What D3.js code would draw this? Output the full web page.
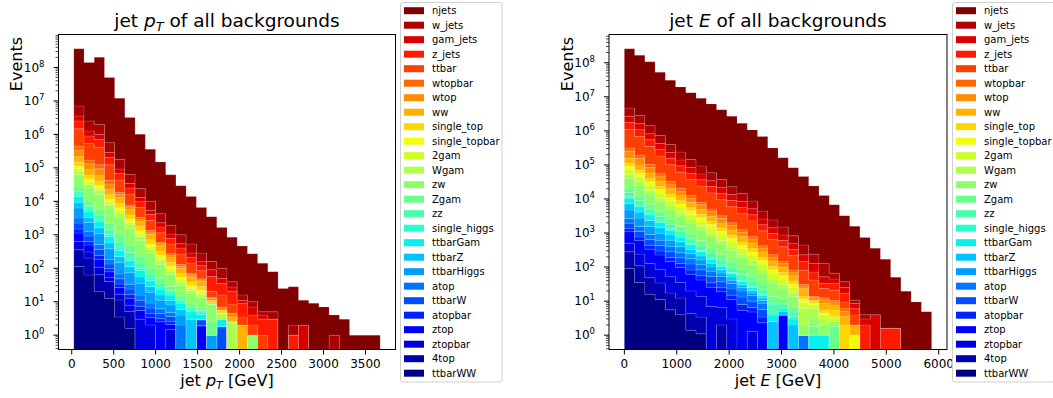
<!DOCTYPE html>
<html><head><meta charset="utf-8">
<script src="https://cdn.jsdelivr.net/npm/d3@7"></script>
<style>
body{margin:0;background:#fff;}
svg{display:block;font-family:"DejaVu Sans",sans-serif;}
text{white-space:pre;}
</style></head><body>
<svg id="c" width="1053" height="398"></svg>
<script>
// ---------- categories (stack order, bottom -> top) ----------
const seriesNames = ["ttbarWW","4top","ztopbar","ztop","atopbar","ttbarW","atop","ttbarHiggs","ttbarZ","ttbarGam","single_higgs","zz","Zgam","zw","Wgam","2gam","single_topbar","single_top","ww","wtop","wtopbar","ttbar","z_jets","gam_jets","w_jets","njets"];
// histogram ranges (GeV), 30 bins each
const ptRange = [25, 3675];
const eRange = [0, 5865];
// tick labels
const ptTicks = [0, 500, 1000, 1500, 2000, 2500, 3000, 3500];
const eTicks = [0, 1000, 2000, 3000, 4000, 5000, 6000];
const yTickExps = [0, 1, 2, 3, 4, 5, 6, 7, 8];

// ---------- jet pT : events per bin ----------
const pt_ttbarWW = [112,63,20,12.6,3.5,1.6,0,0,0,0,0,0,0,0,0,0,0,0,0,0,0,0,0,0,0,0,0,0,0,0];
const pt_4top = [245,138,44,27.5,7.8,3.5,0,0,0,0,0,0,0,0,0,0,0,0,0,0,0,0,0,0,0,0,0,0,0,0];
const pt_ztopbar = [275,105,44,13.8,5.5,2.75,3,2,0,1.5,0,0,0,0,0,0,0,0,0,0,0,0,0,0,0,0,0,0,0,0];
const pt_ztop = [490,186,78,24.5,9.8,4.9,2.5,1.4,2.5,0.6,0,0,1.9,0,0,0,0,0,0,0,0,0,0,0,0,0,0,0,0,0];
const pt_atopbar = [357,135,56,17.8,7.1,3.5,1.8,1.0,0.6,0.5,0,0,0,0,0,0,0,0,0,0,0,0,0,0,0,0,0,0,0,0];
const pt_ttbarW = [760,290,120,38,15,7.6,3.8,2.1,1.35,1.0,0,0,1,0,1.8,0,0,0,0,0,0,0,0,0,0,0,0,0,0,0];
const pt_atop = [920,355,148,47,18.6,9.3,4.7,2.6,1.66,1.2,2,0,0,0,0,0,0,0,0,0,0,0,0,0,0,0,0,0,0,0];
const pt_ttbarHiggs = [3150,1050,560,200,79,40,20,10,5.0,3.2,2.0,0,0,1,0,0,0,0,0,0,0,0,0,0,0,0,0,0,0,0];
const pt_ttbarZ = [3020,1000,540,190,76,38,19,9.5,4.8,3.0,1.9,3,0,0,0,0,0,0,0,0,0,0,0,0,0,0,0,0,0,0];
const pt_ttbarGam = [4790,1580,850,300,120,60,30,15,7.6,4.8,3.0,2,1.3,0,1.2,0,0,0,0,0,0,0,0,0,0,0,0,0,0,0];
const pt_single_higgs = [2470,810,440,155,62,31,15.5,7.8,3.9,2.5,1.5,1,0.7,0,0,0,0,0,0,0,0,0,0,0,0,0,0,0,0,0];
const pt_zz = [3360,1410,950,380,214,95,43,17,7.6,3.4,1.5,0.85,0.6,0,0,0,0,0,0,0,0,0,0,0,0,0,0,0,0,0];
const pt_Zgam = [6960,2900,1950,780,440,195,87,35,15.5,6.9,3.1,1.7,1.2,1.5,0,0,0,0,0,0,0,0,0,0,0,0,0,0,0,0];
const pt_zw = [36200,15000,10200,4100,2300,1020,460,182,81,36,16,9.1,6.5,6,0,0,0,1,0,0,0,0,0,0,0,0,0,0,0,0];
const pt_Wgam = [16300,6800,4600,1800,1020,460,200,81,36,16,7.2,4.1,2.9,0,1.5,2.5,0,0,0,0,0,0,0,0,0,0,0,0,0,0];
const pt_2gam = [13900,5750,3900,1550,870,390,174,69,31,13.8,6.2,3.5,2.5,0,0,0,0,0,0,0,0,0,0,0,0,0,0,0,0,0];
const pt_single_topbar = [18900,7900,5400,2140,1200,540,240,95,43,19,8.5,4.8,3.4,0,0,0,0,0,0,0,0,0,0,0,0,0,0,0,0,0];
const pt_single_top = [35700,14800,10000,4000,2240,1000,450,178,79,35,16,8.9,6.3,1.5,1.1,0,0,0,0,0,0,0,0,0,0,0,0,0,0,0];
const pt_ww = [65900,27500,18600,7400,4200,1860,830,330,148,66,30,16.6,11.7,1,0,1,2,0,0,0,0,0,0,0,0,0,0,0,0,0];
const pt_wtop = [125000,45000,35000,10000,3000,1070,400,166,69,32,16.6,8.7,4.5,1.5,1.4,1,0,0,0,0,0,0,0,0,0,0,0,0,0,0];
const pt_wtopbar = [108000,38000,30000,8500,2600,910,340,141,59,27,14,7.4,3.8,1,0,0,0,0,0,0,0,0,0,0,0,0,0,0,0,0];
const pt_ttbar = [1030000,360000,290000,81000,24500,8700,3200,1350,560,257,135,71,36,7,9,4,1.5,1,1,0,0,0,0,0,0,0,0,0,0,0];
const pt_z_jets = [1030000,370000,290000,81000,24500,8700,3200,1350,560,257,135,71,36,36,19,12,5.5,2,2,3,0,1,0,0,0,0,0,0,0,0];
const pt_gam_jets = [1040000,370000,295000,83000,25000,8900,3300,1380,575,263,138,72,37,33,15,7,2,3,1,0,0,0,2,0,0,0,0,0,0,0];
const pt_w_jets = [3530000,1260000,1000000,280000,85000,30000,11000,4700,1950,890,470,245,126,69,50,12,5,3,1,2,0,1,0,0,0,1,0,0,0,0];
const pt_njets = [353000000,137500000,198000000,49400000,11800000,3140000,976000,350000,146000,60000,28000,13500,6300,3309,1560,810,444,259,136,74,25,26,9,9,7,3,3,1,1,1];

// ---------- jet E : events per bin ----------
const e_ttbarWW = [91,35,16,11.2,5.6,4.0,1.4,1.1,0,0,0,0,0,0,0,0,0,0,0,0,0,0,0,0,0,0,0,0,0,0];
const e_4top = [191,74,33,23,11.7,8.3,3.0,2.3,0,2,0,0,0,0,0,0,0,0,0,0,0,0,0,0,0,0,0,0,0,0];
const e_ztopbar = [219,132,78,52,35,23,15.5,10.5,6.9,4.6,3.0,0,1.3,0,0,0,0,0,0,0,0,0,0,0,0,0,0,0,0,0];
const e_ztop = [595,355,209,141,93,62,42,28,18.6,12.3,8.1,5.4,3.5,2.3,0,3.9,0,0,0,0,0,0,0,0,0,0,0,0,0,0];
const e_atopbar = [284,170,100,68,45,30,20,13.5,8.9,5.9,3.9,2.6,1.7,1.1,0,0,0,0,0,0,0,0,0,0,0,0,0,0,0,0];
const e_ttbarW = [570,347,204,138,91,60,41,27.5,18,12,7.9,5.2,3.5,2.3,0,0,0,0,0,0,0,0,0,0,0,0,0,0,0,0];
const e_atop = [740,450,263,178,117,78,52,35,23,15.5,10,6.8,4.5,3,0,0,0,1,0,0,0,0,0,0,0,0,0,0,0,0];
const e_ttbarHiggs = [2090,1180,660,380,220,132,74,44,25,14.5,8.3,4.8,2.75,1.66,0,0,0,0,0,0,0,0,0,0,0,0,0,0,0,0];
const e_ttbarZ = [2460,1380,780,450,257,155,87,51,30,17,9.8,5.6,3.2,1.95,2.5,1,2,0,0,0,0,0,0,0,0,0,0,0,0,0];
const e_ttbarGam = [3230,1820,1020,590,340,204,115,68,39,22,13,7.4,4.3,2.6,1.4,1,1,0,1,1,0,0,0,0,0,0,0,0,0,0];
const e_single_higgs = [1280,720,410,235,135,81,46,27,15.5,8.9,5.1,3.0,1.7,1.0,0.6,0,0.5,0,0,0,0,0,0,0,0,0,0,0,0,0];
const e_zz = [3700,2340,1320,780,470,295,186,117,74,47,30,18.6,11.7,6.6,3.7,2.3,1.3,0,0,0,0,0,0,0,0,0,0,0,0,0];
const e_Zgam = [5400,3400,1900,1120,680,430,270,170,107,68,43,27,17,9.5,5.4,3.4,1.9,0,0.8,0,1.8,0,0,0,0,0,0,0,0,0];
const e_zw = [19800,12600,7100,4200,2500,1580,1000,630,400,250,158,100,63,35,20,12.6,7.1,1,1.4,1,0.7,0,0,0,0,0,0,0,0,0];
const e_Wgam = [10500,6600,3700,2200,1320,830,525,330,209,132,83,52,33,18.6,10.5,6.6,3.7,4.2,3,1,0,0,0,0,0,0,0,0,0,0];
const e_2gam = [21200,13500,7600,4500,2700,1700,1070,680,430,270,170,107,68,38,21,13.5,7.6,3,1.5,1,1,0,0,0,0,0,0,0,0,0];
const e_single_topbar = [18800,11700,6600,3900,2340,1480,930,590,370,235,148,93,59,33,18.6,11.7,6.6,2.3,1,0.5,0,0,1,0,0,0,0,0,0,0];
const e_single_top = [21000,13200,7400,4400,2600,1660,1050,660,420,263,166,105,66,37,21,13,7.4,2,1,1,2,2,0,0,0,0,0,0,0,0];
const e_ww = [46300,29500,16600,9800,5900,3700,2340,1480,930,590,370,235,148,83,47,30,16.6,9.5,1,3,2,1.5,1,0,0,0,0,0,0,0];
const e_wtop = [92700,56000,28000,14500,7800,4700,2800,1820,1150,720,450,280,170,85,47,29,16,5,2,2.5,2,1.5,0,0,0,0,0,0,0,0];
const e_wtopbar = [65000,39000,19500,10000,5400,3200,1950,1260,800,500,310,195,117,59,32,20,11,3,1,1.5,1,1,0,0,0,0,0,0,0,0];
const e_ttbar = [806000,490000,245000,126000,68000,41000,24500,15800,10000,6300,3900,2450,1480,740,410,250,138,50,28,11,10.5,3.5,1.9,0,0,0,0,0,0,0];
const e_z_jets = [656000,400000,200000,102000,55000,33000,20000,12900,8100,5100,3160,2000,1200,600,330,204,112,64,30,9.5,12,7.5,2.1,2,0,1.6,1.6,0,0,0];
const e_gam_jets = [913000,550000,275000,141000,76000,46000,27500,17800,11200,7100,4400,2750,1660,830,460,280,155,84,57,19,12,8,2.5,1,4,0,0,0,0,0];
const e_w_jets = [1990000,1200000,600000,310000,166000,100000,60000,39000,24500,15500,9500,6000,3600,1820,1000,620,340,218,111,77,21,12,2.2,1,0,0,0,0,0,0];
const e_njets = [252000000,163000000,105600000,51800000,30500000,19300000,13100000,9000000,6140000,4160000,2680000,1650000,1060000,676000,314000,160000,82000,45300,23800,12500,6690,3200,1574,737,351,168,49,19.5,9.5,4.9];

// tables built from the arrays above (stack order)
const ptSeries = [pt_ttbarWW,pt_4top,pt_ztopbar,pt_ztop,pt_atopbar,pt_ttbarW,pt_atop,pt_ttbarHiggs,pt_ttbarZ,pt_ttbarGam,pt_single_higgs,pt_zz,pt_Zgam,pt_zw,pt_Wgam,pt_2gam,pt_single_topbar,pt_single_top,pt_ww,pt_wtop,pt_wtopbar,pt_ttbar,pt_z_jets,pt_gam_jets,pt_w_jets,pt_njets];
const eSeries = [e_ttbarWW,e_4top,e_ztopbar,e_ztop,e_atopbar,e_ttbarW,e_atop,e_ttbarHiggs,e_ttbarZ,e_ttbarGam,e_single_higgs,e_zz,e_Zgam,e_zw,e_Wgam,e_2gam,e_single_topbar,e_single_top,e_ww,e_wtop,e_wtopbar,e_ttbar,e_z_jets,e_gam_jets,e_w_jets,e_njets];

// matplotlib "jet" colormap (256-entry lut)
function jet(t){
  const j = Math.min(255, Math.floor(t*256)); const x = j/255;
  const f = pts => { for (let a=0;a<pts.length-1;a++){ const [x0,y0]=pts[a],[x1,y1]=pts[a+1]; if (x>=x0 && x<=x1) return y0+(y1-y0)*(x-x0)/(x1-x0);} return pts[pts.length-1][1]; };
  const r = f([[0,0],[0.35,0],[0.66,1],[0.89,1],[1,0.5]]);
  const g = f([[0,0],[0.125,0],[0.375,1],[0.64,1],[0.91,0],[1,0]]);
  const b = f([[0,0.5],[0.11,1],[0.34,1],[0.65,0],[1,0]]);
  return d3.rgb(Math.round(r*255),Math.round(g*255),Math.round(b*255)).formatHex();
}
const colors = seriesNames.map((_,i)=>jet(i/(seriesNames.length-1)));

const svg = d3.select("#c");
const FONT = '"DejaVu Sans", sans-serif';

function drawPanel(p){
  const g = svg.append("g");
  const nb = p.series[0].length;
  const bw = (p.range[1]-p.range[0])/nb;
  const edges = d3.range(nb+1).map(k => p.range[0]+k*bw);
  const span = p.range[1]-p.range[0];
  const x = d3.scaleLinear().domain([p.range[0]-0.05*span, p.range[1]+0.05*span]).range([p.left, p.right]);
  const layers = []; let prev = new Array(nb).fill(0);
  p.series.forEach((s,i)=>{ const top = s.map((v,k)=>prev[k]+v); layers.push({i, bottom:prev, top}); prev = top; });
  const lmax = Math.log10(d3.max(prev));
  const y = d3.scaleLog().domain([Math.pow(10,-0.05*lmax), Math.pow(10,1.05*lmax)]).range([p.bottom, p.top]);
  const yy = v => y(Math.max(v, 1e-4));
  const clipId = "clip"+p.id;
  svg.append("clipPath").attr("id",clipId).append("rect")
    .attr("x",p.left).attr("y",p.top).attr("width",p.right-p.left).attr("height",p.bottom-p.top);
  const pathFor = L => {
    let d = `M${x(edges[0])},${yy(L.bottom[0])}V${yy(L.top[0])}`;
    for (let k=0;k<nb;k++){ d += `H${x(edges[k+1])}`; if (k<nb-1) d += `V${yy(L.top[k+1])}`; }
    d += `V${yy(L.bottom[nb-1])}`;
    for (let k=nb-1;k>=0;k--){ d += `H${x(edges[k])}`; if (k>0) d += `V${yy(L.bottom[k-1])}`; }
    return d+"Z";
  };
  const plot = g.append("g").attr("clip-path",`url(#${clipId})`);
  plot.selectAll("path.layer").data(layers).join("path").attr("class","layer")
    .attr("d", pathFor).attr("fill", d=>colors[d.i])
    .attr("stroke","#ffffff").attr("stroke-opacity",0.17).attr("stroke-width",0.8);

  // frame
  g.append("rect").attr("x",p.left).attr("y",p.top).attr("width",p.right-p.left).attr("height",p.bottom-p.top)
    .attr("fill","none").attr("stroke","#000").attr("stroke-width",1);

  // x ticks
  const xt = g.append("g");
  p.xTicks.forEach(t=>{
    const px = x(t);
    xt.append("line").attr("x1",px).attr("x2",px).attr("y1",p.bottom).attr("y2",p.bottom+5).attr("stroke","#000").attr("stroke-width",1);
    xt.append("text").attr("x",px).attr("y",p.bottom+18).attr("text-anchor","middle")
      .attr("font-size",12).attr("font-family",FONT).attr("fill","#000").text(t);
  });
  // y ticks (log)
  const [d0,d1] = y.domain();
  for (let e=-1;e<=9;e++){
    for (let m=1;m<=9;m++){
      const v = m*Math.pow(10,e);
      if (v < d0 || v > d1) continue;
      const py = y(v);
      g.append("line").attr("x1",p.left-(m===1?5:3)).attr("x2",p.left).attr("y1",py).attr("y2",py)
        .attr("stroke","#000").attr("stroke-width",m===1?1:0.7);
    }
  }
  yTickExps.forEach(e=>{
    const py = y(Math.pow(10,e));
    const t = g.append("text").attr("x",p.left-14).attr("y",py+4.3).attr("text-anchor","end")
      .attr("font-size",12).attr("font-family",FONT).attr("fill","#000");
    t.append("tspan").text("10");
    t.append("tspan").attr("dy",-5.2).attr("font-size",8.5).text(String(e));
  });

  // title
  const tt = g.append("text").attr("x",(p.left+p.right)/2).attr("y",27).attr("text-anchor","middle")
    .attr("font-size",18.5).attr("font-family",FONT).attr("fill","#000");
  p.titleParts(tt, 18.5);
  // x label
  const xl = g.append("text").attr("x",(p.left+p.right)/2).attr("y",386).attr("text-anchor","middle")
    .attr("font-size",16).attr("font-family",FONT).attr("fill","#000");
  p.xlabelParts(xl, 16);
  // y label
  g.append("text").attr("transform",`translate(${p.ylabX},37) rotate(-90)`).attr("text-anchor","end")
    .attr("font-size",16).attr("font-family",FONT).attr("fill","#000").text("Events");

  // legend
  const lg = g.append("g");
  const n = seriesNames.length;
  lg.append("rect").attr("x",p.legX+0.5).attr("y",2.5).attr("width",101.5).attr("height",379.5).attr("rx",2.5)
    .attr("fill","#fff").attr("fill-opacity",0.8).attr("stroke","#d0d0d0").attr("stroke-width",1);
  const order = d3.range(n).reverse();
  order.forEach((i,r)=>{
    const cy = 10.7 + r*14.5;
    lg.append("rect").attr("x",p.legX+4).attr("y",cy-3.5).attr("width",20).attr("height",7).attr("fill",colors[i]);
    lg.append("text").attr("x",p.legX+32).attr("y",cy+3.6).attr("font-size",10).attr("font-family",FONT)
      .attr("fill","#000").text(seriesNames[i]);
  });
}

function ptParts(sel, fs){
  sel.append("tspan").text("jet ");
  sel.append("tspan").attr("font-style","italic").text("p");
  sel.append("tspan").attr("font-style","italic").attr("font-size",fs*0.7).attr("dy",fs*0.2).text("T");
  return sel;
}

drawPanel({
  id:"pt", series: ptSeries, range: ptRange, xTicks: ptTicks,
  left:58.5, right:395.5, top:34.5, bottom:349.5, ylabX:21.5, legX:400,
  titleParts:(s,fs)=>{ ptParts(s,fs); s.append("tspan").attr("dy",-fs*0.2).text(" of all backgrounds"); },
  xlabelParts:(s,fs)=>{ ptParts(s,fs); s.append("tspan").attr("dy",-fs*0.2).text(" [GeV]"); }
});
drawPanel({
  id:"e", series: eSeries, range: eRange, xTicks: eTicks,
  left:609, right:947, top:34.5, bottom:349.5, ylabX:573, legX:952,
  titleParts:(s,fs)=>{ s.append("tspan").text("jet "); s.append("tspan").attr("font-style","italic").text("E"); s.append("tspan").text(" of all backgrounds"); },
  xlabelParts:(s,fs)=>{ s.append("tspan").text("jet "); s.append("tspan").attr("font-style","italic").text("E"); s.append("tspan").text(" [GeV]"); }
});
</script>
</body></html>
